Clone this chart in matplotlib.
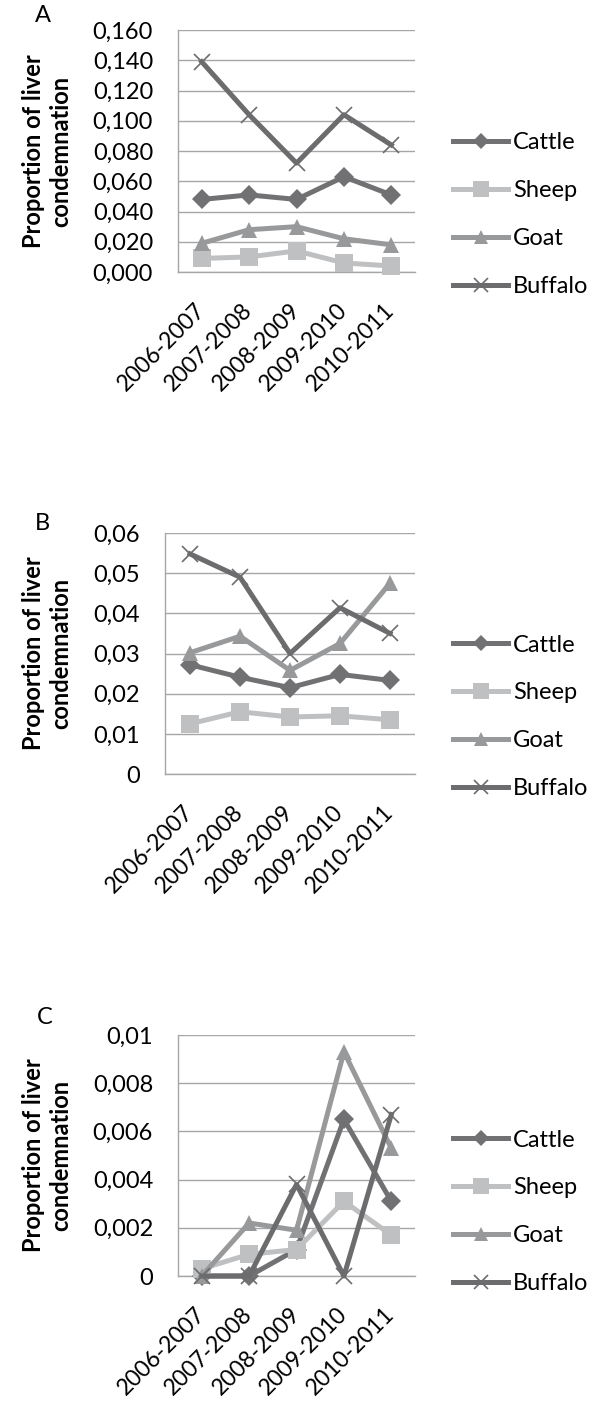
import numpy as np
import matplotlib
matplotlib.use("Agg")
import matplotlib.pyplot as plt

plt.rcParams['font.family'] = ['Lato', 'DejaVu Sans']

years = ["2006-2007", "2007-2008", "2008-2009", "2009-2010", "2010-2011"]
species = ["Cattle", "Sheep", "Goat", "Buffalo"]

# panel A
a_cattle = [0.048, 0.051, 0.048, 0.063, 0.051]
a_sheep = [0.009, 0.010, 0.014, 0.006, 0.004]
a_goat = [0.019, 0.028, 0.030, 0.022, 0.018]
a_buffalo = [0.139, 0.104, 0.072, 0.104, 0.084]
a_ticks = [0.0, 0.02, 0.04, 0.06, 0.08, 0.10, 0.12, 0.14, 0.16]

# panel B
b_cattle = [0.0272, 0.0241, 0.0215, 0.0248, 0.0233]
b_sheep = [0.0125, 0.0155, 0.0142, 0.0145, 0.0135]
b_goat = [0.0302, 0.0343, 0.0258, 0.0325, 0.0475]
b_buffalo = [0.0548, 0.0490, 0.0300, 0.0414, 0.0350]
b_ticks = [0.0, 0.01, 0.02, 0.03, 0.04, 0.05, 0.06]

# panel C
c_cattle = [0.0, 0.0, 0.0011, 0.0065, 0.0031]
c_sheep = [0.0003, 0.0009, 0.0011, 0.0031, 0.0017]
c_goat = [0.0, 0.0022, 0.0019, 0.0093, 0.0053]
c_buffalo = [0.0, 0.0, 0.0038, 0.0, 0.0067]
c_ticks = [0.0, 0.002, 0.004, 0.006, 0.008, 0.01]

styles = {
    "Cattle": dict(color="#717173", marker="D", ms=10, mew=0),
    "Sheep": dict(color="#bfc0c2", marker="s", ms=13, mew=0),
    "Goat": dict(color="#98999b", marker="^", ms=12, mew=0),
    "Buffalo": dict(color="#6c6c6e", marker="x", ms=12, mew=1.2),
}

FS = 17
fig = plt.figure(figsize=(6, 14.03), dpi=100)

panels = [
    ("A", [a_cattle, a_sheep, a_goat, a_buffalo], a_ticks, 3,
     [0.2967, 0.8061, 0.395, 0.1725], (43, 15), 0.238),
    ("B", [b_cattle, b_sheep, b_goat, b_buffalo], b_ticks, None,
     [0.275, 0.4483, 0.4167, 0.1718], (42, 523), 0.237),
    ("C", [c_cattle, c_sheep, c_goat, c_buffalo], c_ticks, None,
     [0.2967, 0.0905, 0.395, 0.1718], (45, 1018), 0.266),
]

W, H = 600, 1403
for letter, series, ticks, decimals, rect, lpos, legy in panels:
    ax = fig.add_axes(rect)
    x = np.arange(len(years))
    for name, vals in zip(species, series):
        st = styles[name]
        ax.plot(x, vals, color=st["color"], lw=3.6, marker=st["marker"],
                markersize=st["ms"], markeredgewidth=st["mew"],
                markerfacecolor=st["color"], markeredgecolor=st["color"],
                label=name, clip_on=False, zorder=3)
    ax.set_xlim(-0.5, len(years) - 0.5)
    ax.set_ylim(ticks[0], ticks[-1])
    ax.set_yticks(ticks)
    if decimals:
        labels = [f"{t:.{decimals}f}".replace(".", ",") for t in ticks]
    else:
        labels = [f"{round(t, 6):g}".replace(".", ",") for t in ticks]
    ax.set_yticklabels(labels)
    ax.set_xticks(x)
    ax.set_xticklabels(years, rotation=45, ha="right", va="center",
                       rotation_mode="anchor", fontsize=16.5)
    ax.tick_params(axis="both", length=0, colors="#000000")
    ax.tick_params(axis="y", pad=18, labelsize=FS)
    ax.tick_params(axis="x", pad=25)
    ax.grid(axis="y", color="#a6a6a6", lw=1.0)
    ax.set_axisbelow(True)
    for s in ["top", "right"]:
        ax.spines[s].set_visible(False)
    for s in ["left", "bottom"]:
        ax.spines[s].set_color("#a6a6a6")
        ax.spines[s].set_linewidth(1.0)
    ax.set_ylabel("Proportion of liver\ncondemnation", fontsize=FS,
                  fontweight="bold", linespacing=1.2)
    left_px = rect[0] * W
    width_px = rect[2] * W
    ax.yaxis.set_label_coords((72 - left_px) / width_px, 0.5)
    ax.legend(loc="center left", bbox_to_anchor=((453 - left_px) / width_px, legy),
              frameon=False, fontsize=FS, handlelength=2.33, handletextpad=0.2,
              labelspacing=1.14, borderpad=0, borderaxespad=0, markerscale=0.85)
    fig.text(lpos[0] / W, 1 - lpos[1] / H, letter, fontsize=FS,
             ha="center", va="center")

fig.savefig("out.png", dpi=100)
